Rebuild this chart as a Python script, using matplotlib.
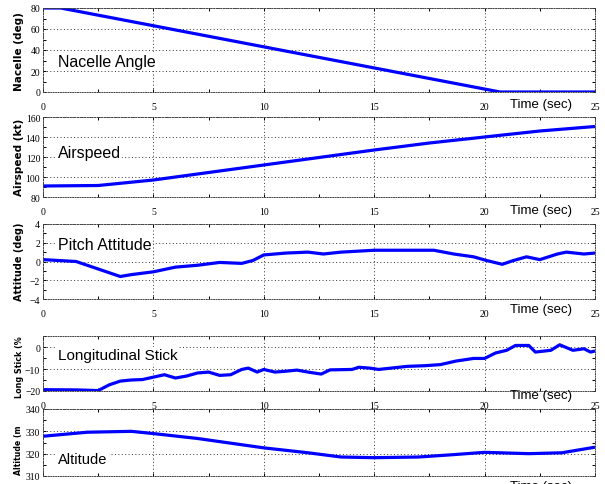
import matplotlib
matplotlib.use("Agg")
import matplotlib.pyplot as plt
from matplotlib.ticker import MultipleLocator, AutoMinorLocator

# ---- data ----
time_nac = [0, 0.8, 20.7, 25]
nacelle = [80, 80, 0, 0]

time_air = [0, 2.5, 5, 7.5, 10, 12.5, 15, 17.5, 20, 22.5, 25]
airspeed = [91, 91.5, 97, 104.5, 112, 119.5, 127, 134, 140, 146, 150.5]

time_pitch = [0, 1.5, 2.5, 3.5, 4, 5, 6, 7, 8, 9, 9.5, 10, 11, 12, 12.7, 13.5,
              15, 17.1, 17.7, 18.6, 19.5, 20.1, 20.8, 21.3, 21.9, 22.5, 23.3,
              23.7, 24.5, 25]
pitch = [0.2, 0.0, -0.8, -1.6, -1.4, -1.1, -0.6, -0.4, -0.1, -0.2, 0.1, 0.7,
         0.9, 1.0, 0.8, 1.0, 1.2, 1.2, 1.2, 0.8, 0.5, 0.1, -0.3, 0.1, 0.5, 0.2,
         0.8, 1.0, 0.8, 0.9]

time_stick = [0, 1.5, 2.5, 3, 3.5, 4, 4.5, 5, 5.5, 6, 6.5, 7, 7.5, 8, 8.5, 9,
              9.3, 9.7, 10, 10.5, 11, 11.5, 12, 12.6, 13, 14, 14.3, 14.8, 15.2,
              16.5, 17.3, 18, 18.7, 19.5, 20, 20.5, 21, 21.4, 22, 22.3, 23,
              23.4, 24, 24.5, 24.8, 25]
stick = [-19.4, -19.5, -19.8, -17.2, -15.5, -15.0, -14.8, -13.7, -12.6, -14.1,
         -13.2, -11.8, -11.4, -12.9, -12.6, -10.2, -9.6, -11.4, -10.2, -11.4,
         -11.0, -10.5, -11.4, -12.3, -10.4, -10.2, -9.2, -9.6, -10.2, -8.8,
         -8.5, -8.0, -6.4, -5.2, -5.2, -2.7, -1.5, 0.7, 0.7, -2.3, -1.5, 1.0,
         -1.5, -0.8, -2.3, -1.8]

time_alt = [0, 2, 4, 5, 7, 10, 12, 13.5, 15, 17, 18.5, 20, 22, 23.5, 25]
altitude = [327.8, 329.6, 330.0, 329.0, 326.8, 322.6, 320.4, 318.5, 318.2,
            318.5, 319.5, 320.6, 320.0, 320.4, 322.9]

series = [
    (time_nac, nacelle, "Nacelle (deg)", "Nacelle Angle", (0, 80), 20),
    (time_air, airspeed, "Airspeed (kt)", "Airspeed", (80, 160), 20),
    (time_pitch, pitch, "Attitude (deg)", "Pitch Attitude", (-4, 4), 2),
    (time_stick, stick, "Long Stick (%", "Longitudinal Stick", (-20, 5), 10),
    (time_alt, altitude, "Altitude (m", "Altitude", (310, 340), 10),
]

# panel boxes in pixels (top, bottom), label placement in axes fraction
W, H = 605, 485
LEFT, RIGHT = 43, 595
rows = [(9, 93), (118, 198), (225, 300), (337, 392), (410, 477)]
title_y = [0.36, 0.56, 0.72, 0.65, 0.25]
title_fs = [11.5, 11.5, 11.5, 11, 10.5]
ylab_fs = [7.5, 7.5, 7, 5.8, 5.6]
ylab_y = [52, 157, 262, 367, 450]
time_off = [12, 13, 10, 4, 10]

fig = plt.figure(figsize=(W / 100, H / 100), dpi=100)

for i, (t, v, ylab, title, ylim, ystep) in enumerate(series):
    top, bot = rows[i]
    ax = fig.add_axes([LEFT / W, 1 - bot / H, (RIGHT - LEFT) / W, (bot - top) / H])
    ax.plot(t, v, color="#0000ff", linewidth=2.3, solid_capstyle="butt")
    ax.set_xlim(0, 25)
    ax.set_ylim(*ylim)
    ax.xaxis.set_major_locator(MultipleLocator(5))
    ax.xaxis.set_minor_locator(AutoMinorLocator(2))
    ax.yaxis.set_major_locator(MultipleLocator(ystep))
    ax.yaxis.set_minor_locator(AutoMinorLocator(2))
    ax.grid(True, which="major", color="#333333", linestyle=(0, (1, 2.5)),
            linewidth=0.7)
    for s in ax.spines.values():
        s.set_linestyle((0, (1, 1.5)))
        s.set_linewidth(0.7)
        s.set_color("#444444")
    ax.tick_params(which="both", direction="in", top=True, right=True,
                   length=2.5, width=0.7, labelsize=7)
    ax.tick_params(axis="x", pad=7)
    ax.tick_params(axis="y", pad=2)
    for lab in ax.get_xticklabels() + ax.get_yticklabels():
        lab.set_family("Liberation Serif")

    fig.text(19 / W, 1 - ylab_y[i] / H, ylab, rotation=90, ha="center",
             va="center", fontsize=ylab_fs[i], fontweight="bold",
             family="DejaVu Sans")

    ax.text(0.027, title_y[i], title, transform=ax.transAxes, ha="left",
            va="center", fontsize=title_fs[i], family="Liberation Sans",
            bbox=dict(facecolor="white", edgecolor="none", pad=1))

    fig.text(541 / W, 1 - (bot + time_off[i]) / H, "Time (sec)", ha="center",
             va="center", fontsize=9.5, family="Liberation Sans")

fig.savefig("out.png", dpi=100, facecolor="white")
